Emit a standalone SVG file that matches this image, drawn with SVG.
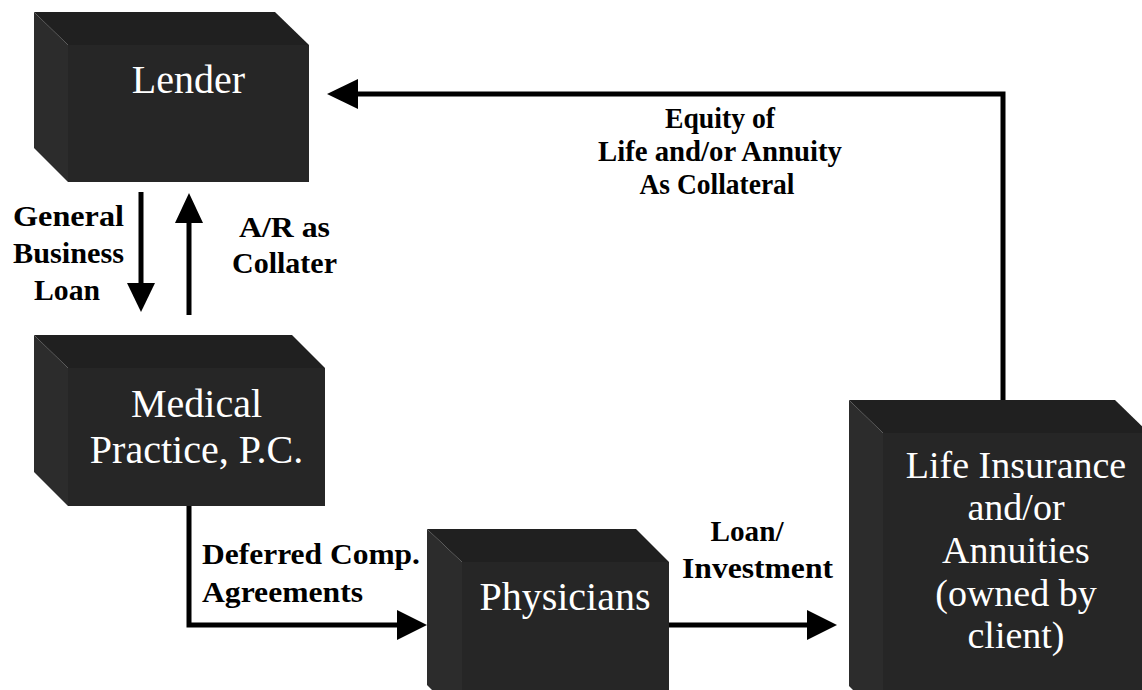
<svg xmlns="http://www.w3.org/2000/svg" width="1142" height="690" viewBox="0 0 1142 690">
<defs>
<style>
.front{fill:#262626}
.top{fill:#202020}
.side{fill:#2c2c2c}
.nt{font-family:"Liberation Serif","Times New Roman",serif;fill:#ffffff;text-anchor:middle}
.lb{font-family:"Liberation Serif","Times New Roman",serif;font-weight:bold;fill:#000000;font-size:30px}
.c{text-anchor:middle}
.ln{stroke:#000;stroke-width:5;fill:none}
.ah{fill:#000}
</style>
</defs>
<rect width="1142" height="690" fill="#ffffff"/>

<g id="lender">
<polygon class="top" points="34,12 275,12 309,45 68,45"/>
<polygon class="side" points="34,12 68,45 68,182 34,148"/>
<rect class="front" x="68" y="45" width="241" height="137"/>
<text class="nt" x="188.5" y="93" font-size="40">Lender</text>
</g>

<g id="medical">
<polygon class="top" points="34,335 292,335 325,368 68,368"/>
<polygon class="side" points="34,335 68,368 68,506 34,472"/>
<rect class="front" x="68" y="368" width="257" height="138"/>
<text class="nt" x="196.5" y="417" font-size="40">Medical</text>
<text class="nt" x="196.5" y="463" font-size="40">Practice, P.C.</text>
</g>

<g id="physicians">
<polygon class="top" points="427,529 636,529 669,562 462,562"/>
<polygon class="side" points="427,529 462,562 462,720 427,685"/>
<rect class="front" x="462" y="562" width="207" height="158"/>
<text class="nt" x="565" y="610" font-size="40">Physicians</text>
</g>

<g id="life">
<polygon class="top" points="849,400 1115,400 1149,433 883,433"/>
<polygon class="side" points="849,400 883,433 883,720 849,686"/>
<rect class="front" x="883" y="433" width="266" height="287"/>
<text class="nt" x="1016" y="478" font-size="38">Life Insurance</text>
<text class="nt" x="1016" y="520" font-size="38">and/or</text>
<text class="nt" x="1016" y="563" font-size="38">Annuities</text>
<text class="nt" x="1016" y="606" font-size="38">(owned by</text>
<text class="nt" x="1016" y="648" font-size="38">client)</text>
</g>

<g id="connectors">
<polyline class="ln" points="1003,400 1003,94 355,94"/>
<polygon class="ah" points="327,94 358,79 358,109"/>
<line class="ln" x1="141" y1="192" x2="141" y2="285"/>
<polygon class="ah" points="141,312 127,283 155,283"/>
<line class="ln" x1="189" y1="315" x2="189" y2="221"/>
<polygon class="ah" points="189,193 175,223 203,223"/>
<polyline class="ln" points="189,506 189,625 399,625"/>
<polygon class="ah" points="427,625 397,610 397,640"/>
<line class="ln" x1="669" y1="625" x2="809" y2="625"/>
<polygon class="ah" points="837,625 807,610 807,640"/>
</g>

<g id="labels">
<text class="lb c" x="68.5" y="226" textLength="111" lengthAdjust="spacingAndGlyphs">General</text>
<text class="lb c" x="68.5" y="263" textLength="111" lengthAdjust="spacingAndGlyphs">Business</text>
<text class="lb c" x="67" y="300" textLength="66" lengthAdjust="spacingAndGlyphs">Loan</text>
<text class="lb c" x="284.5" y="237" textLength="91" lengthAdjust="spacingAndGlyphs">A/R as</text>
<text class="lb c" x="284.5" y="273" textLength="105" lengthAdjust="spacingAndGlyphs">Collater</text>
<text class="lb c" x="720" y="128" textLength="110" lengthAdjust="spacingAndGlyphs" font-size="28">Equity of</text>
<text class="lb c" x="720" y="161" textLength="244" lengthAdjust="spacingAndGlyphs" font-size="28">Life and/or Annuity</text>
<text class="lb c" x="717" y="194" textLength="155" lengthAdjust="spacingAndGlyphs" font-size="28">As Collateral</text>
<text class="lb" x="202" y="564" textLength="218" lengthAdjust="spacingAndGlyphs">Deferred Comp.</text>
<text class="lb" x="202" y="602" textLength="161" lengthAdjust="spacingAndGlyphs">Agreements</text>
<text class="lb c" x="747" y="541" textLength="73" lengthAdjust="spacingAndGlyphs">Loan/</text>
<text class="lb c" x="757.5" y="578" textLength="151" lengthAdjust="spacingAndGlyphs">Investment</text>
</g>
</svg>
